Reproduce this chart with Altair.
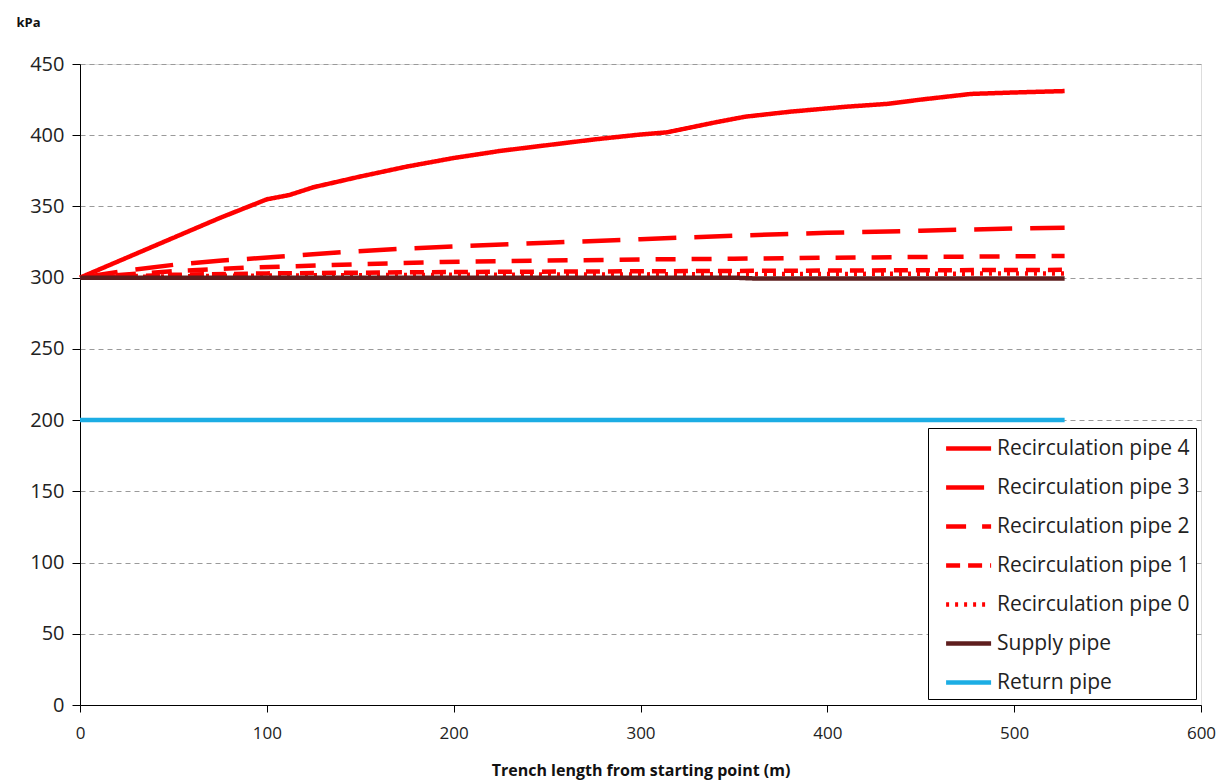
import altair as alt
import pandas as pd

# ---- data ----
x_p4 = [0, 25, 50, 75, 100, 112, 125, 150, 175, 200, 225, 250, 275, 300, 314, 340, 356, 380, 410, 432, 450, 477, 500, 527]
y_p4 = [300, 314, 328, 342, 355, 358, 363.5, 371, 378, 384, 389, 393, 397, 400.5, 402, 409, 413, 416.5, 420, 422, 425, 429, 430, 431]

x_p3 = [0, 25, 50, 76, 110, 142, 175, 202, 250, 300, 350, 400, 450, 500, 527]
y_p3 = [300, 305, 309, 312, 315, 318, 320.5, 322, 324.5, 327, 329.5, 331.5, 333, 334.5, 335]

x_p2 = [0, 50, 89, 150, 194, 250, 300, 350, 400, 450, 500, 527]
y_p2 = [300, 304.5, 307, 309.5, 311, 312, 312.8, 313.3, 314, 314.5, 315, 315.2]

x_p1 = [0, 50, 100, 200, 300, 400, 527]
y_p1 = [300, 302, 303, 304, 304.5, 305, 305.5]

x_p0 = [0, 50, 100, 200, 300, 400, 527]
y_p0 = [300, 301, 301.5, 302, 302.3, 302.6, 303]

x_supply = [0, 350, 360, 527]
y_supply = [300, 300, 299.5, 299.5]

x_return = [0, 527]
y_return = [200, 200]

series_names = ["Recirculation pipe 4", "Recirculation pipe 3", "Recirculation pipe 2",
                "Recirculation pipe 1", "Recirculation pipe 0", "Supply pipe", "Return pipe"]
series_colors = ["#FF0000", "#FF0000", "#FF0000", "#FF0000", "#FF0000", "#5E1E1E", "#1CADE4"]
series_dashes = [[1, 0], [38, 18], [20, 16], [14, 8], [3, 6], [1, 0], [1, 0]]

xs = [x_p4, x_p3, x_p2, x_p1, x_p0, x_supply, x_return]
ys = [y_p4, y_p3, y_p2, y_p1, y_p0, y_supply, y_return]

rows = []
for name, xv, yv in zip(series_names, xs, ys):
    for i, (a, b) in enumerate(zip(xv, yv)):
        rows.append({"series": name, "x": a, "y": b, "order": i})
df = pd.DataFrame(rows)

FONT = "Open Sans"

chart = alt.Chart(df).mark_line(strokeWidth=4.5, strokeCap="butt", strokeJoin="round").encode(
    x=alt.X("x:Q",
            scale=alt.Scale(domain=[0, 600], nice=False),
            axis=alt.Axis(values=[0, 100, 200, 300, 400, 500, 600], grid=False,
                          labelFlush=False,
                          title="Trench length from starting point (m)",
                          titleFont=FONT, labelFont=FONT,
                          titleFontWeight="bold", titleFontSize=16, titlePadding=21,
                          labelFontSize=17, labelPadding=13, tickSize=7,
                          domainColor="#000", tickColor="#000", labelColor="#222",
                          titleColor="#111")),
    y=alt.Y("y:Q",
            scale=alt.Scale(domain=[0, 450], nice=False),
            axis=alt.Axis(values=[0, 50, 100, 150, 200, 250, 300, 350, 400, 450],
                          grid=True, gridDash=[5, 4], gridColor="#9a9a9a", gridWidth=1,
                          labelFlush=False,
                          title="kPa", titleAngle=0, titleFontWeight="bold", titleFontSize=13,
                          titleFont=FONT, labelFont=FONT,
                          titleAlign="left", titleBaseline="middle", titleX=-64, titleY=-42,
                          labelFontSize=20, labelPadding=8, tickSize=8,
                          domainColor="#000", tickColor="#000", labelColor="#222",
                          titleColor="#111")),
    color=alt.Color("series:N",
                    scale=alt.Scale(domain=series_names, range=series_colors),
                    legend=alt.Legend(title=None, orient="none", legendX=848, legendY=364,
                                      symbolType="M-0.2,0H3.55", symbolStrokeWidth=4.5,
                                      symbolSize=576,
                                      labelFontSize=21, labelFont=FONT, labelColor="#222",
                                      labelLimit=0, labelOffset=34,
                                      rowPadding=14, padding=6, strokeColor="#000",
                                      fillColor="white")),
    strokeDash=alt.StrokeDash("series:N",
                              scale=alt.Scale(domain=series_names, range=series_dashes),
                              legend=None),
    order="order:O",
).properties(
    width=1121, height=641, padding={"left": 8, "top": 8, "right": 0, "bottom": 4}
).configure_view(
    stroke="#000", strokeWidth=1.5
).configure(background="white", font=FONT)

chart.save("out.html", embed_options={"renderer": "svg", "actions": False})
